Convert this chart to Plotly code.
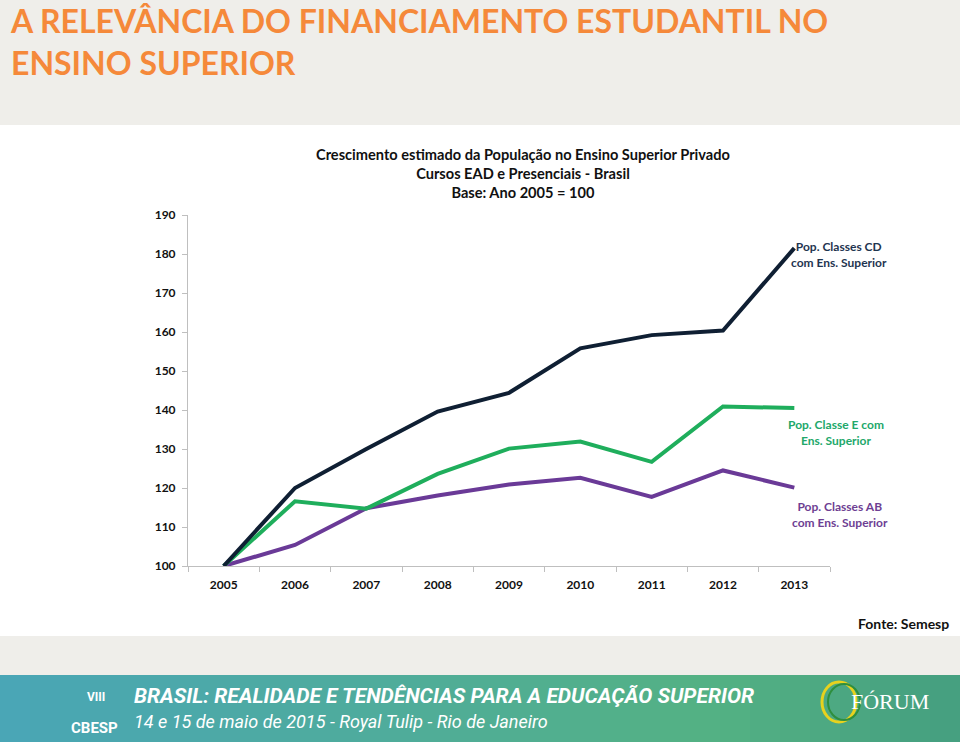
import plotly.graph_objects as go

years = ["2005", "2006", "2007", "2008", "2009", "2010", "2011", "2012", "2013"]
pop_cd = [100, 120.0, 130.0, 139.6, 144.4, 155.8, 159.2, 160.4, 181.5]
pop_e = [100, 116.6, 114.7, 123.6, 130.1, 131.9, 126.7, 140.9, 140.5]
pop_ab = [100, 105.4, 114.8, 118.1, 120.9, 122.6, 117.7, 124.5, 120.1]
y_ticks = [100, 110, 120, 130, 140, 150, 160, 170, 180, 190]

labels = {
    "cd": "Pop. Classes CD<br>com Ens. Superior",
    "e": "Pop. Classe E com<br>Ens. Superior",
    "ab": "Pop. Classes AB<br>com Ens. Superior",
}

C_CD = "#0f1f33"
C_E = "#1fae5c"
C_AB = "#6a3a97"
FONT = "Lato"

fig = go.Figure()
for vals, col in [(pop_ab, C_AB), (pop_e, C_E), (pop_cd, C_CD)]:
    fig.add_trace(go.Scatter(x=years, y=vals, mode="lines",
                             line=dict(color=col, width=4), hoverinfo="x+y",
                             showlegend=False))

W, H = 960, 742


def py(pix):
    # pixel y (from top) -> paper y
    return (566 - pix) / 351.0


def px(pix):
    return (pix - 188) / 642.0


shapes = [
    dict(type="rect", xref="paper", yref="paper", layer="below",
         x0=px(0), x1=px(960), y0=py(125), y1=py(636),
         line=dict(width=0), fillcolor="#ffffff"),
]
# footer banner: approximated gradient with strips
n = 32
c0 = (74, 166, 182)
c1 = (84, 178, 132)
c2 = (70, 160, 128)
for i in range(n):
    t = i / (n - 1)
    if t < 0.75:
        u = t / 0.75
        c = tuple(int(c0[k] + (c1[k] - c0[k]) * u) for k in range(3))
    else:
        u = (t - 0.75) / 0.25
        c = tuple(int(c1[k] + (c2[k] - c1[k]) * u) for k in range(3))
    shapes.append(dict(type="rect", xref="paper", yref="paper", layer="below",
                       x0=px(960 * i / n), x1=px(960 * (i + 1) / n + 1),
                       y0=py(743), y1=py(675),
                       line=dict(width=0), fillcolor="rgb(%d,%d,%d)" % c))
# forum logo rings
shapes.append(dict(type="circle", xref="paper", yref="paper",
                   x0=px(822), x1=px(856), y0=py(722), y1=py(682),
                   line=dict(color="#e7d21e", width=3)))
shapes.append(dict(type="circle", xref="paper", yref="paper",
                   x0=px(828), x1=px(860), y0=py(720), y1=py(684),
                   line=dict(color="#2e8f3e", width=2)))

ann = []
ann.append(dict(text="<b>A RELEVÂNCIA DO FINANCIAMENTO ESTUDANTIL NO<br>ENSINO SUPERIOR</b>",
                xref="paper", yref="paper", x=px(8), y=py(-1), xanchor="left", yanchor="top",
                align="left", showarrow=False,
                font=dict(family=FONT, size=32, color="#f5893a")))
ann.append(dict(text="<b>Crescimento estimado da População no Ensino Superior Privado<br>"
                     "Cursos EAD e Presenciais - Brasil<br>Base: Ano 2005 = 100</b>",
                xref="paper", yref="paper", x=px(523), y=py(144), xanchor="center", yanchor="top",
                align="center", showarrow=False,
                font=dict(family=FONT, size=14.6, color="#111111")))
ann.append(dict(text="<b>" + labels["cd"] + "</b>", xref="paper", yref="paper",
                x=px(839), y=py(254), xanchor="center", yanchor="middle", showarrow=False,
                font=dict(family=FONT, size=12, color="#1f3550")))
ann.append(dict(text="<b>" + labels["e"] + "</b>", xref="paper", yref="paper",
                x=px(836), y=py(432), xanchor="center", yanchor="middle", showarrow=False,
                font=dict(family=FONT, size=12, color="#22a86a")))
ann.append(dict(text="<b>" + labels["ab"] + "</b>", xref="paper", yref="paper",
                x=px(840), y=py(514), xanchor="center", yanchor="middle", showarrow=False,
                font=dict(family=FONT, size=12, color="#6e3f93")))
ann.append(dict(text="<b>Fonte: Semesp</b>", xref="paper", yref="paper",
                x=px(951), y=py(623), xanchor="right", yanchor="middle", showarrow=False,
                font=dict(family=FONT, size=14, color="#111111")))
# footer texts
ann.append(dict(text="<b><i>BRASIL: REALIDADE E TENDÊNCIAS PARA A EDUCAÇÃO SUPERIOR</i></b>",
                xref="paper", yref="paper", x=px(132), y=py(696), xanchor="left", yanchor="middle",
                showarrow=False, font=dict(family="Roboto", size=21, color="#ffffff")))
ann.append(dict(text="<i>14 e 15 de maio de 2015 - Royal Tulip - Rio de Janeiro</i>",
                xref="paper", yref="paper", x=px(132), y=py(721), xanchor="left", yanchor="middle",
                showarrow=False, font=dict(family="Roboto", size=18, color="#ffffff")))
ann.append(dict(text="<b>CBESP</b>", xref="paper", yref="paper", x=px(94), y=py(728),
                xanchor="center", yanchor="middle", showarrow=False,
                font=dict(family="Roboto", size=15, color="#ffffff")))
ann.append(dict(text="<b>VIII</b>", xref="paper", yref="paper", x=px(96), y=py(697),
                xanchor="center", yanchor="middle", showarrow=False,
                font=dict(family="Roboto", size=12, color="#ffffff")))
ann.append(dict(text="FÓRUM", xref="paper", yref="paper", x=px(890), y=py(701),
                xanchor="center", yanchor="middle", showarrow=False,
                font=dict(family="Liberation Serif", size=22, color="#ffffff")))

fig.update_layout(
    width=W, height=H, autosize=False,
    margin=dict(l=188, r=130, t=215, b=176),
    paper_bgcolor="#efeeea", plot_bgcolor="#ffffff",
    shapes=shapes, annotations=ann,
    xaxis=dict(type="category", categoryorder="array", categoryarray=years,
               range=[-0.5, 8.5], tickson="boundaries", ticks="outside", ticklen=5,
               tickcolor="#bfbfbf", showline=True, linecolor="#bfbfbf", linewidth=1,
               showgrid=False, zeroline=False, ticklabelstandoff=8,
               tickfont=dict(family=FONT, size=12, color="#111111", weight="bold")),
    yaxis=dict(range=[100, 190], tickvals=y_ticks, ticks="outside", ticklen=5,
               tickcolor="#bfbfbf", showline=True, linecolor="#bfbfbf", linewidth=1,
               showgrid=False, zeroline=False, ticklabelstandoff=4,
               tickfont=dict(family=FONT, size=12, color="#111111", weight="bold")),
)

fig.write_html("out.html", config={"displayModeBar": False},
               post_script="document.body.style.margin='0';document.body.style.overflow='hidden';")
